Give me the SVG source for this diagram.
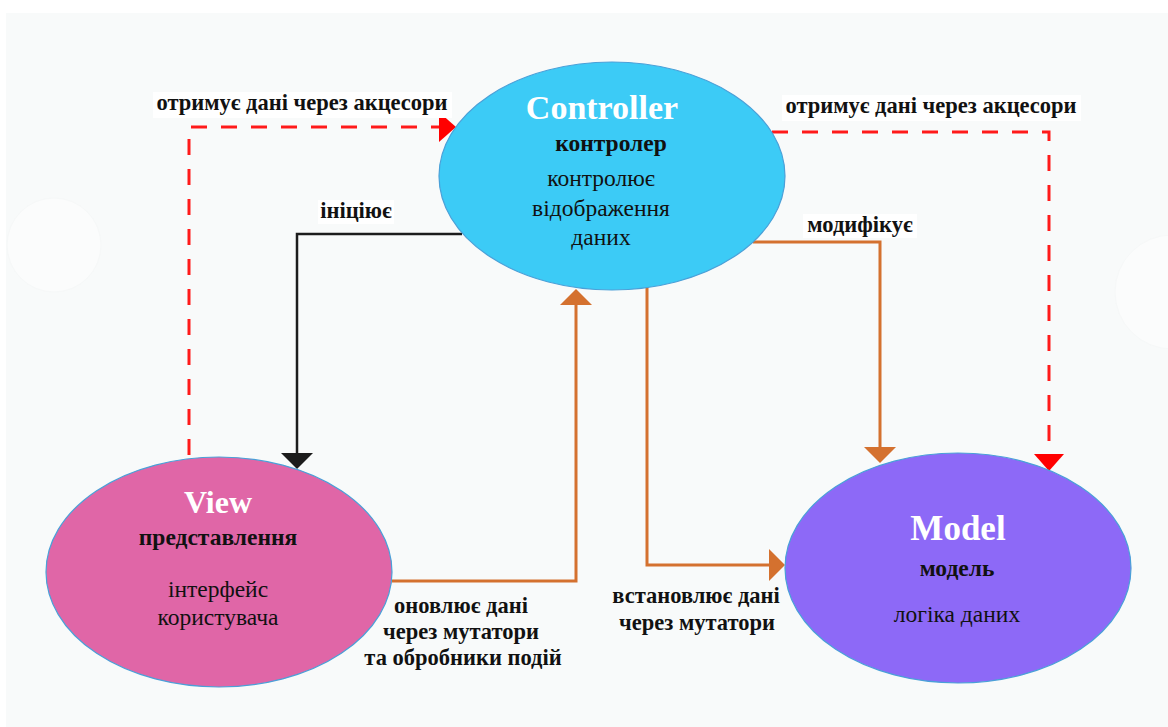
<svg xmlns="http://www.w3.org/2000/svg" width="1168" height="727" viewBox="0 0 1168 727">
  <style>
    .lbl { font-family: "Liberation Serif", "Times New Roman", serif; font-weight: bold; font-size: 22.5px; fill: #111; text-anchor: middle; }
    .title { font-family: "Liberation Serif", "Times New Roman", serif; font-weight: bold; fill: #ffffff; text-anchor: middle; }
    .sub { font-family: "Liberation Serif", "Times New Roman", serif; font-weight: bold; font-size: 23.5px; fill: #111; text-anchor: middle; }
    .body { font-family: "Liberation Serif", "Times New Roman", serif; font-size: 23.5px; fill: #111; text-anchor: middle; }
    .node { stroke: #4aa0d8; stroke-width: 1.2; }
    .red { fill: none; stroke: #ff1a1a; stroke-width: 3; stroke-dasharray: 16 14; }
    .blk { fill: none; stroke: #1c1c1c; stroke-width: 2.5; }
    .org { fill: none; stroke: #d4712f; stroke-width: 3; }
    .lblbg { fill: #ffffff; }
  </style>
  <defs>
    <marker id="arrRed" markerUnits="userSpaceOnUse" viewBox="0 0 17 30" markerWidth="17" markerHeight="30" refX="0" refY="15" orient="auto">
      <path d="M0,0 L17,15 L0,30 z" fill="#ff0000"/>
    </marker>
    <marker id="arrBlk" markerUnits="userSpaceOnUse" viewBox="0 0 16 32" markerWidth="16" markerHeight="32" refX="0" refY="16" orient="auto">
      <path d="M0,0 L16,16 L0,32 z" fill="#1c1c1c"/>
    </marker>
    <marker id="arrOrg" markerUnits="userSpaceOnUse" viewBox="0 0 16 32" markerWidth="16" markerHeight="32" refX="0" refY="16" orient="auto">
      <path d="M0,0 L16,16 L0,32 z" fill="#d4712f"/>
    </marker>
  </defs>

  <!-- canvas -->
  <rect x="0" y="0" width="1168" height="727" fill="#ffffff"/>
  <rect x="6" y="13" width="1162" height="714" fill="#f8fafa"/>
  <circle cx="54" cy="245" r="47" fill="#fbfcfc" stroke="#f6f8f8" stroke-width="1"/>
  <circle cx="1172" cy="292" r="57" fill="#fbfcfc" stroke="#f6f8f8" stroke-width="1"/>

  <!-- connectors -->
  <g id="connectors">
    <path class="red" d="M189,455 V127 H439" marker-end="url(#arrRed)"/>
    <path class="red" d="M772,132 H1049 V454" marker-end="url(#arrRed)"/>
    <path class="blk" d="M462,234 H297 V453" marker-end="url(#arrBlk)"/>
    <path class="org" d="M753,242 H880 V447" marker-end="url(#arrOrg)"/>
    <path class="org" d="M392,581 H576 V305" marker-end="url(#arrOrg)"/>
    <path class="org" d="M647,287 V565 H769" marker-end="url(#arrOrg)"/>

    <rect class="lblbg" x="153" y="92" width="299" height="26"/>
    <text class="lbl" x="302" y="110">отримує дані через акцесори</text>
    <rect class="lblbg" x="782" y="95" width="299" height="26"/>
    <text class="lbl" x="931" y="113">отримує дані через акцесори</text>
    <rect class="lblbg" x="318" y="200" width="76" height="24"/>
    <text class="lbl" x="356" y="218">ініціює</text>
    <rect class="lblbg" x="803" y="214" width="114" height="24"/>
    <text class="lbl" x="860" y="232">модифікує</text>
    <text class="lbl" x="461" y="613">оновлює дані</text>
    <text class="lbl" x="461" y="639">через мутатори</text>
    <text class="lbl" x="463" y="665">та обробники подій</text>
    <text class="lbl" x="696" y="603">встановлює дані</text>
    <text class="lbl" x="697" y="630">через мутатори</text>
  </g>

  <!-- Controller -->
  <g id="controller">
    <ellipse class="node" cx="612" cy="176" rx="173" ry="114" fill="#3ccbf6"/>
    <text class="title" x="602" y="119" font-size="34">Controller</text>
    <text class="sub" x="611" y="151">контролер</text>
    <text class="body" x="601" y="186">контролює</text>
    <text class="body" x="601" y="216">відображення</text>
    <text class="body" x="601" y="245">даних</text>
  </g>

  <!-- View -->
  <g id="view">
    <ellipse class="node" cx="219" cy="572" rx="173" ry="115" fill="#e066a7"/>
    <text class="title" x="218" y="513" font-size="32">View</text>
    <text class="sub" x="218" y="545">представлення</text>
    <text class="body" x="218" y="597">інтерфейс</text>
    <text class="body" x="218" y="625">користувача</text>
  </g>

  <!-- Model -->
  <g id="model">
    <ellipse class="node" cx="958" cy="568" rx="173" ry="115" fill="#8d69f7"/>
    <text class="title" x="958" y="540" font-size="35">Model</text>
    <text class="sub" x="957" y="576">модель</text>
    <text class="body" x="957" y="622">логіка даних</text>
  </g>
</svg>
